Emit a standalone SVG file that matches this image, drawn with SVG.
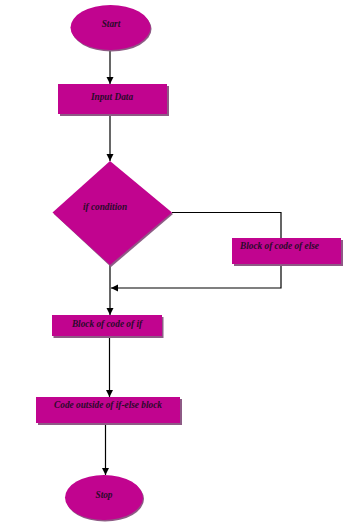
<svg xmlns="http://www.w3.org/2000/svg" width="357" height="523" viewBox="0 0 357 523">
<style>
.shape{fill:#C1048F}
.shadow{fill:#8E5A85}
.lbl{font-family:"Liberation Serif",serif;font-style:italic;font-weight:bold;font-size:9.3px;fill:#2A0A2A}
.c{text-anchor:middle}
.conn{fill:none;stroke:#000;stroke-width:1.2}
</style>
<defs>
<marker id="arr" markerWidth="8" markerHeight="8" refX="7" refY="4" orient="auto" markerUnits="userSpaceOnUse">
<path d="M0,0.5 L7,4 L0,7.5 Z" fill="#000"/>
</marker>
</defs>
<rect width="357" height="523" fill="#fff"/>
<g id="connectors">
<line class="conn" x1="110" y1="50" x2="110" y2="84" marker-end="url(#arr)"/>
<line class="conn" x1="110" y1="114" x2="110" y2="161" marker-end="url(#arr)"/>
<polyline class="conn" points="172,212.5 281,212.5 281,238"/>
<polyline class="conn" points="281,264 281,288 111,288" marker-end="url(#arr)"/>
<line class="conn" x1="110" y1="265" x2="110" y2="315" marker-end="url(#arr)"/>
<line class="conn" x1="109.5" y1="336" x2="109.5" y2="397" marker-end="url(#arr)"/>
<line class="conn" x1="105.5" y1="423" x2="105.5" y2="475" marker-end="url(#arr)"/>
</g>
<g id="start">
<ellipse class="shadow" cx="111.5" cy="29" rx="40" ry="22.5"/>
<ellipse class="shape" cx="110.5" cy="27.5" rx="40" ry="22.5"/>
<text class="lbl c" x="111" y="27">Start</text>
</g>
<g id="input">
<rect class="shadow" x="60" y="86" width="109" height="30"/>
<rect class="shape" x="58" y="84" width="109" height="30"/>
<text class="lbl c" x="112" y="100">Input Data</text>
</g>
<g id="decision">
<polygon class="shadow" points="111,163 173,214 111,267 54,214"/>
<polygon class="shape" points="110,161 172,212.5 110,265 52.5,212.5"/>
<text class="lbl c" x="105" y="210">if condition</text>
</g>
<g id="else">
<rect class="shadow" x="234" y="240" width="109" height="26"/>
<rect class="shape" x="232" y="238" width="109" height="26"/>
<text class="lbl" x="240" y="249">Block of code of else</text>
</g>
<g id="ifblock">
<rect class="shadow" x="53.5" y="317" width="110" height="21"/>
<rect class="shape" x="52" y="315" width="110" height="21"/>
<text class="lbl c" x="107" y="327">Block of code of if</text>
</g>
<g id="outside">
<rect class="shadow" x="38" y="399" width="144" height="26"/>
<rect class="shape" x="36" y="397" width="144" height="26"/>
<text class="lbl c" x="108" y="408">Code outside of if-else block</text>
</g>
<g id="stop">
<ellipse class="shadow" cx="105" cy="499" rx="39" ry="22.5"/>
<ellipse class="shape" cx="104" cy="497.5" rx="39" ry="22.5"/>
<text class="lbl c" x="104" y="498">Stop</text>
</g>
</svg>
